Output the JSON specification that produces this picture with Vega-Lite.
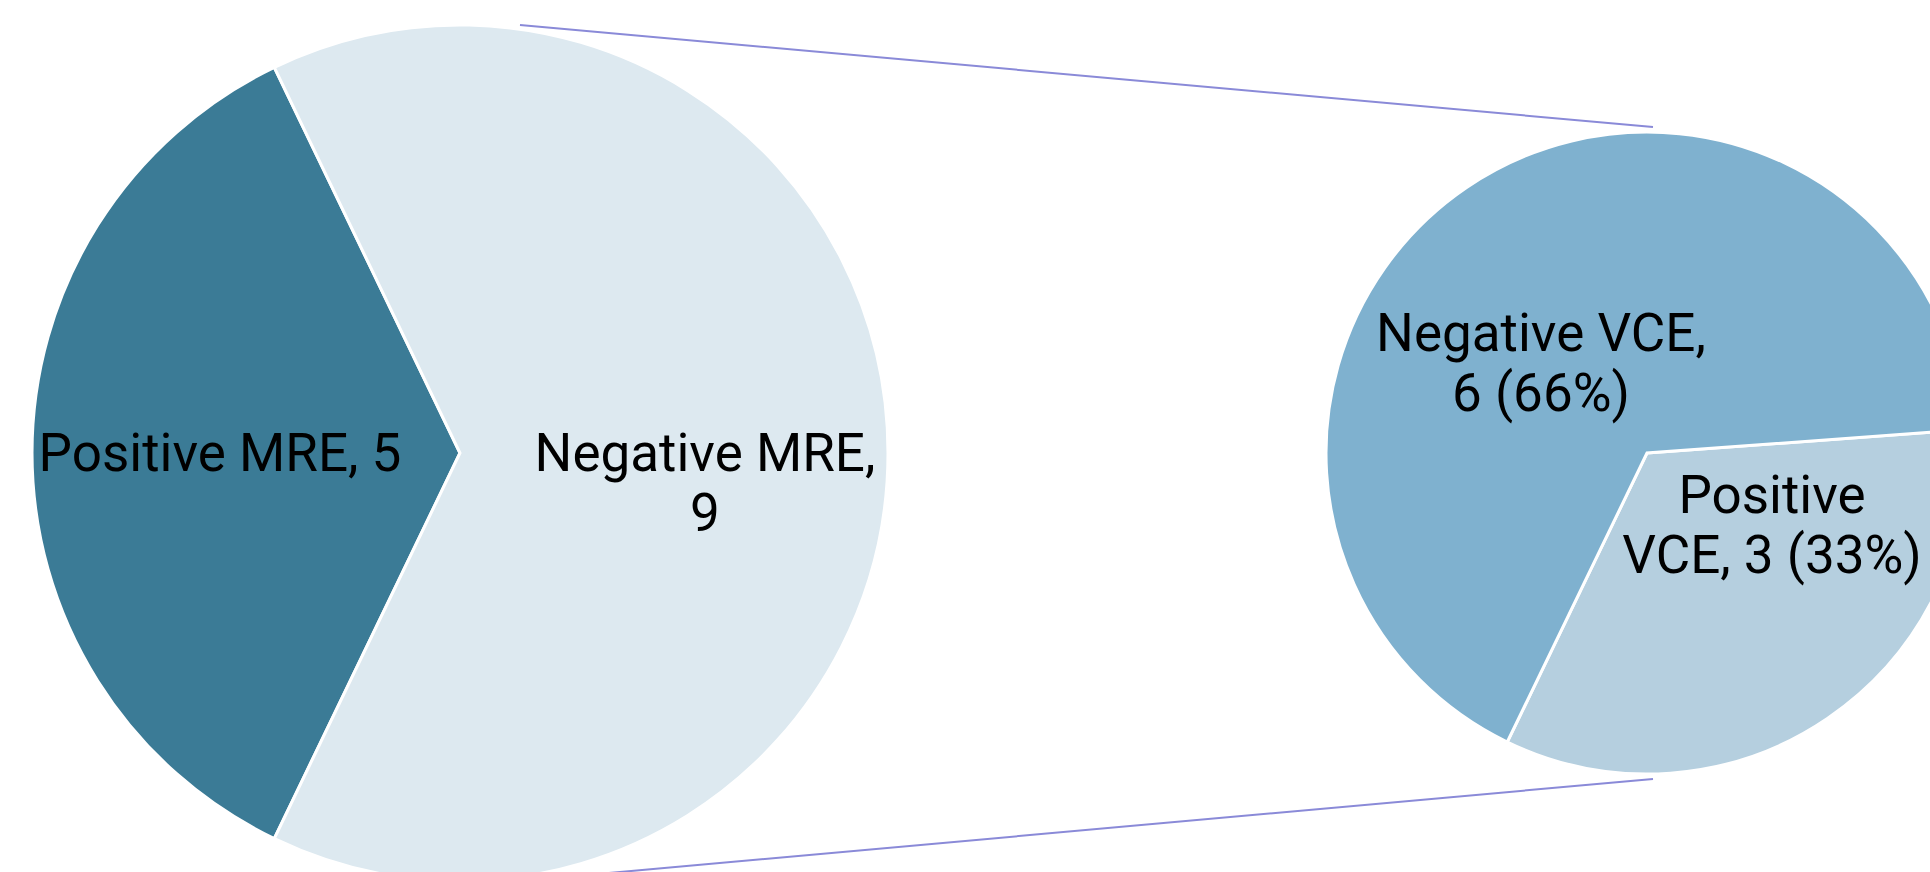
{
  "$schema": "https://vega.github.io/schema/vega-lite/v6.json",
  "width": 1930,
  "height": 872,
  "autosize": "none",
  "padding": 0,
  "background": "white",
  "config": {"view": {"stroke": null}},
  "datasets": {
    "slices": [
      {"pie": "MRE", "label": "Positive MRE", "value": 5, "ord": 1, "cx": 460, "cy": 453},
      {"pie": "MRE", "label": "Negative MRE", "value": 9, "ord": 2, "cx": 460, "cy": 453},
      {"pie": "VCE", "label": "Positive VCE", "value": 3, "ord": 1, "cx": 1647, "cy": 453},
      {"pie": "VCE", "label": "Negative VCE", "value": 6, "ord": 2, "cx": 1647, "cy": 453}
    ],
    "connectors": [
      {"x": 520, "y": 25, "x2": 1653, "y2": 127},
      {"x": 520, "y": 881, "x2": 1653, "y2": 779}
    ],
    "labels": [
      {"text": "Positive MRE, 5", "lx": 220, "ly": 471},
      {"text": "Negative MRE,\n9", "lx": 705, "ly": 471},
      {"text": "Negative VCE,\n6 (66%)", "lx": 1541, "ly": 351},
      {"text": "Positive\nVCE, 3 (33%)", "lx": 1772, "ly": 513}
    ]
  },
  "resolve": {"scale": {"theta": "independent"}},
  "layer": [
    {
      "data": {"name": "slices"},
      "transform": [{"filter": "datum.pie === 'MRE'"}],
      "mark": {"type": "arc", "radius": 428, "stroke": "white", "strokeWidth": 3, "clip": true},
      "encoding": {
        "x": {"field": "cx", "type": "quantitative", "scale": {"domain": [0, 1930], "nice": false, "zero": false}, "axis": null},
        "y": {"field": "cy", "type": "quantitative", "scale": {"domain": [0, 872], "reverse": true, "nice": false, "zero": false}, "axis": null},
        "theta": {"field": "value", "type": "quantitative", "stack": true, "scale": {"range": [3.5904, 9.8736]}},
        "order": {"field": "ord", "type": "quantitative"},
        "color": {
          "field": "label", "type": "nominal", "legend": null,
          "scale": {
            "domain": ["Positive MRE", "Negative MRE", "Positive VCE", "Negative VCE"],
            "range": ["#3b7b96", "#dde9f0", "#b5cfdf", "#7fb1cf"]
          }
        }
      }
    },
    {
      "data": {"name": "slices"},
      "transform": [{"filter": "datum.pie === 'VCE'"}],
      "mark": {"type": "arc", "radius": 321, "stroke": "white", "strokeWidth": 3, "clip": true},
      "encoding": {
        "x": {"field": "cx", "type": "quantitative", "axis": null},
        "y": {"field": "cy", "type": "quantitative", "axis": null},
        "theta": {"field": "value", "type": "quantitative", "stack": true, "scale": {"range": [1.4975, 7.7807]}},
        "order": {"field": "ord", "type": "quantitative"},
        "color": {"field": "label", "type": "nominal", "legend": null}
      }
    },
    {
      "data": {"name": "connectors"},
      "mark": {"type": "rule", "stroke": "#8a8ad8", "strokeWidth": 2, "clip": true},
      "encoding": {
        "x": {"field": "x", "type": "quantitative"},
        "y": {"field": "y", "type": "quantitative"},
        "x2": {"field": "x2"},
        "y2": {"field": "y2"}
      }
    },
    {
      "data": {"name": "labels"},
      "mark": {"type": "text", "font": "Roboto", "fontSize": 53, "color": "black", "align": "center", "baseline": "alphabetic", "lineBreak": "\n", "lineHeight": 60},
      "encoding": {
        "x": {"field": "lx", "type": "quantitative"},
        "y": {"field": "ly", "type": "quantitative"},
        "text": {"field": "text"}
      }
    }
  ]
}
